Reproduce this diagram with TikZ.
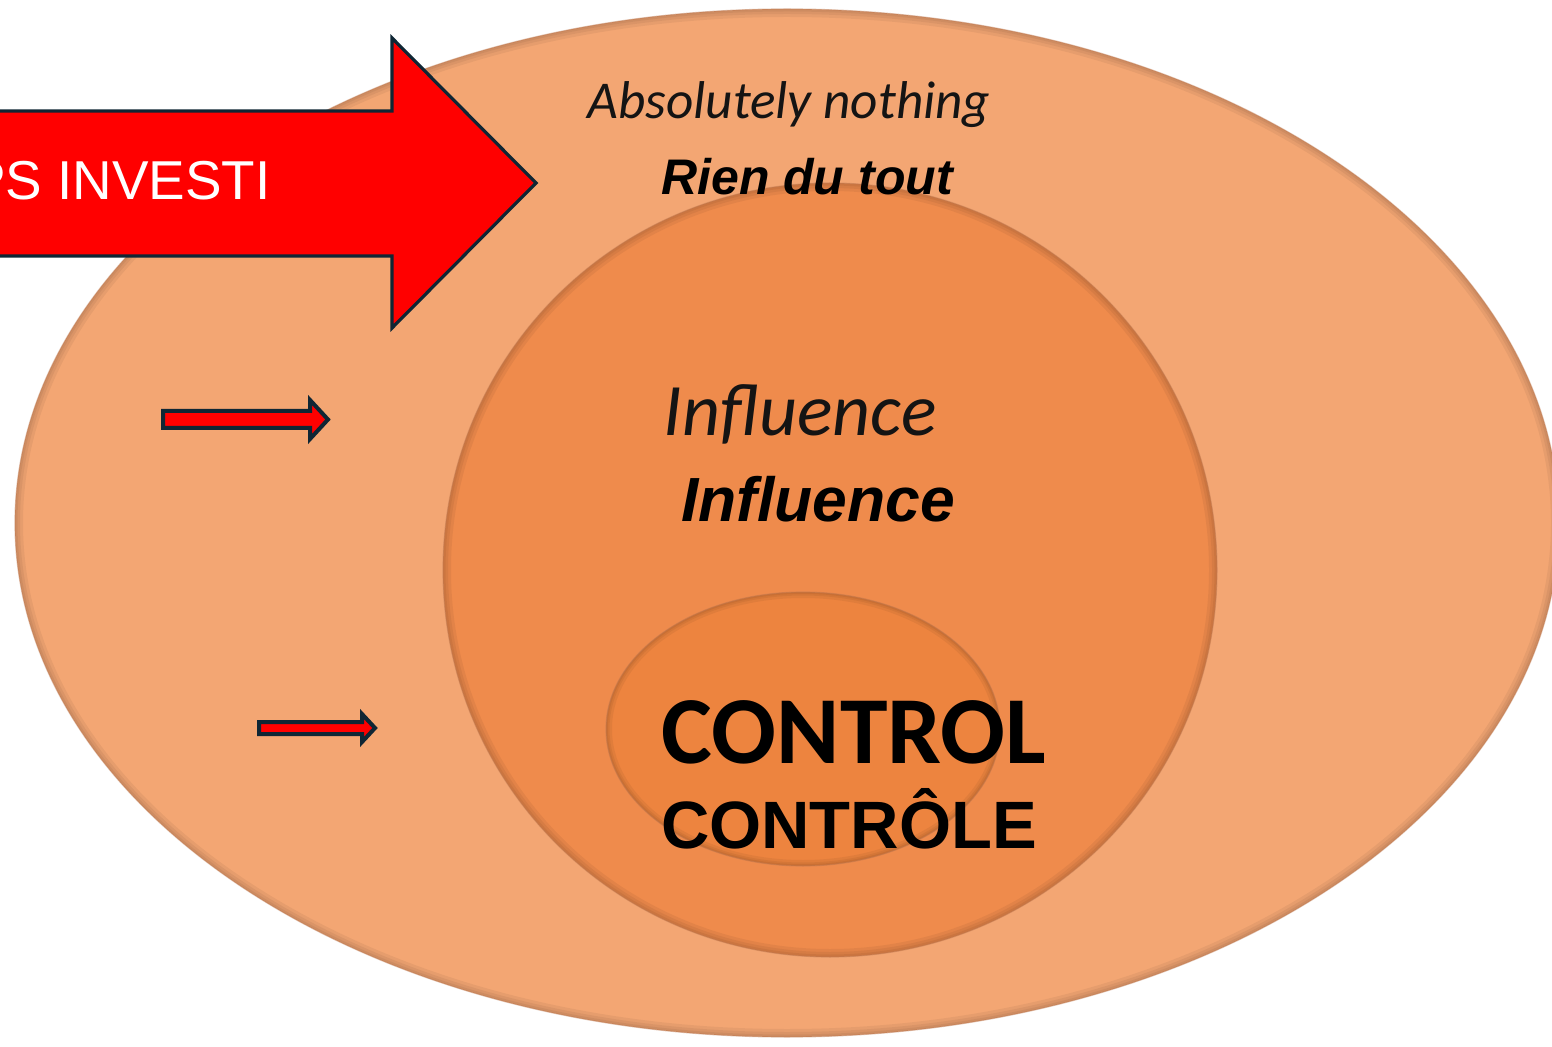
\documentclass[tikz,border=0pt]{standalone}
\usepackage{fontspec}
\setmainfont{Liberation Sans}
\newfontfamily\carlito{Carlito}
\newfontfamily\arialf{Liberation Sans}
\definecolor{outerc}{RGB}{243,166,115}
\definecolor{midc}{RGB}{239,139,76}
\definecolor{innc}{RGB}{237,132,63}
\definecolor{rimc}{RGB}{190,120,80}
\definecolor{arrline}{RGB}{15,38,52}
\definecolor{arrred}{RGB}{255,0,0}
\tikzset{
  rimshade/.style={draw=black, opacity=0.05},
  rimline/.style={draw=rimc, line width=0.6pt, opacity=0.45},
  bigarrow/.style={fill=arrred, draw=arrline, line width=1.6pt, line join=miter},
  smallarrow/.style={fill=arrred, draw=arrline, line width=2pt, line join=miter},
  lbl/.style={inner sep=0pt, outer sep=0pt, anchor=base, text=black},
}
\begin{document}
\begin{tikzpicture}[x=0.5pt,y=-0.5pt]
\useasboundingbox (0,0) rectangle (1552,1047);
\clip (0,0) rectangle (1552,1047);
\fill[white] (0,0) rectangle (1552,1047);
% outer ellipse
\fill[outerc] (787,523) ellipse [x radius=772, y radius=514];
\begin{scope}
  \clip (787,523) ellipse [x radius=772, y radius=514];
  \foreach \w in {8,5,2.5} {\draw[rimshade, line width=\w pt] (787,523) ellipse [x radius=772, y radius=514];}
\end{scope}
\draw[rimline] (787,523) ellipse [x radius=772, y radius=514];
% middle circle
\fill[midc] (830,570) ellipse [x radius=387, y radius=387];
\begin{scope}
  \clip (830,570) ellipse [x radius=387, y radius=387];
  \foreach \w in {8,5,2.5} {\draw[rimshade, line width=\w pt] (830,570) ellipse [x radius=387, y radius=387];}
\end{scope}
\draw[rimline] (830,570) ellipse [x radius=387, y radius=387];
% inner ellipse
\fill[innc] (803,729) ellipse [x radius=197, y radius=137];
\begin{scope}
  \clip (803,729) ellipse [x radius=197, y radius=137];
  \foreach \w in {6,3.5,1.8} {\draw[rimshade, line width=\w pt] (803,729) ellipse [x radius=197, y radius=137];}
\end{scope}
\draw[rimline] (803,729) ellipse [x radius=197, y radius=137];
% big arrow
\draw[bigarrow] (-20,111) -- (392,111) -- (392,38) -- (536,183) -- (392,328) -- (392,256) -- (-20,256) -- cycle;
\node[inner sep=0pt, anchor=base east, text=white, font=\arialf\fontsize{27.4}{32}\selectfont] (temps) at (271,200) {PS INVESTI};
% small arrows
\draw[smallarrow] (163,411) -- (310,411) -- (310,400) -- (328,419.5) -- (310,439) -- (310,428) -- (163,428) -- cycle;
\draw[smallarrow] (259,722) -- (362,722) -- (362,714) -- (375,728) -- (362,742) -- (362,734) -- (259,734) -- cycle;
% labels
\node[lbl, font=\carlito\itshape\fontsize{26.6}{30}\selectfont, text=black!92] (absn) at (789,119) {Absolutely nothing};
\node[lbl, font=\arialf\bfseries\itshape\fontsize{25}{29}\selectfont] (rien) at (807,195) {Rien du tout};
\node[lbl, font=\carlito\itshape\fontsize{37}{42}\selectfont, text=black!92] (infl) at (800,436) {Influence};
\node[lbl, font=\arialf\bfseries\itshape\fontsize{31.2}{35}\selectfont] (inflfr) at (818,522) {Influence};
\node[lbl, font=\carlito\bfseries\fontsize{48}{52}\selectfont] (ctrl) at (854,763) {CONTROL};
\node[lbl, font=\arialf\bfseries\fontsize{33.5}{38}\selectfont] (ctrlfr) at (849,848) {CONTRÔLE};
\end{tikzpicture}
\end{document}
